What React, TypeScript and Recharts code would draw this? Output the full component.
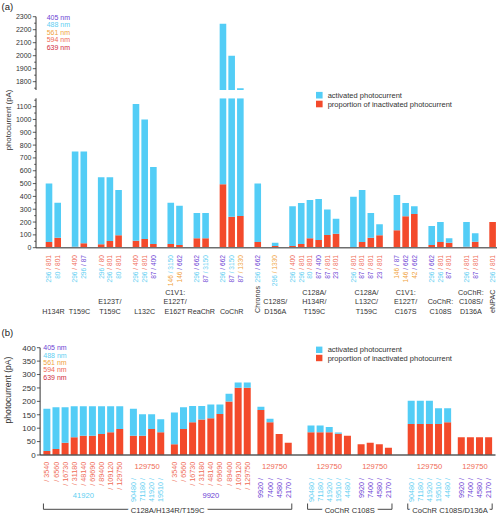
import React from 'react';
import { BarChart, Bar, XAxis, YAxis } from 'recharts';

const NM_COLOR: Record<number, string> = { 405: '#6c3fd4', 488: '#5fcff2', 561: '#f0a33c', 594: '#ef6a55', 639: '#d02c3d' };
const WAVELENGTHS = [405, 488, 561, 594, 639];
const BLUE = '#53cdf6';
const RED = '#f34a2b';
const INK = '#333';
const FONT = '"Liberation Sans", Arial, Helvetica, sans-serif';

// ---------------- panel (a) data ----------------
const A_GROUPS = ['H134R', 'T159C', 'E123T/\nT159C', 'L132C', 'C1V1:\nE122T/\nE162T', 'ReaChR', 'CoChR', 'Chronos', 'C128S/\nD156A', 'C128A/\nH134R/\nT159C', 'C128A/\nL132C/\nT159C', 'C1V1:\nE122T/\nC167S', 'CoChR:\nC108S', 'CoChR:\nC108S/\nD136A', 'eNPAC'];
const A_VERTICAL_GROUPS = ['Chronos', 'eNPAC'];
const A_GROUP_SIZES = [2, 2, 3, 3, 2, 2, 3, 1, 1, 6, 4, 3, 3, 2, 1];
const A_ACTIVATED = [500, 350, 750, 750, 550, 550, 450, 1120, 1000, 630, 350, 328, 270, 270, 2245, 2000, 1750, 500, 39, 323, 349, 372, 380, 297, 226, 398, 450, 271, 182, 411, 349, 323, 169, 200, 73, 200, 112, 200];
const A_INACTIVATED = [45, 78, 8, 34, 26, 52, 97, 55, 68, 29, 29, 21, 73, 73, 495, 242, 247, 44, 13, 13, 29, 73, 60, 99, 109, 5, 44, 78, 97, 136, 245, 263, 21, 44, 39, 8, 47, 200];
const A_DOSE_ON = ['296', '80', '296', '296', '296', '296', '80', '296', '296', '87', '146', '146', '296', '87', '296', '87', '87', '296', '296', '296', '296', '80', '87', '87', '23', '296', '87', '87', '23', '146', '146', '42', '296', '296', '87', '296', '87', '296'];
const A_DOSE_ON_NM = [488, 488, 488, 488, 488, 488, 488, 488, 488, 405, 561, 561, 488, 405, 488, 405, 405, 488, 488, 488, 488, 488, 405, 405, 405, 488, 405, 405, 405, 561, 561, 561, 488, 488, 405, 488, 405, 488];
const A_DOSE_OFF = ['801', '801', '400', '87', '80', '801', '801', '400', '801', '400', '3150', '662', '662', '3150', '662', '3150', '1330', '662', '1330', '400', '801', '801', '400', '801', '801', '801', '801', '801', '801', '87', '662', '662', '662', '801', '801', '801', '801', '801'];
const A_DOSE_OFF_NM = [594, 594, 594, 405, 594, 594, 594, 594, 594, 405, 488, 405, 405, 488, 405, 488, 561, 405, 561, 594, 594, 594, 405, 594, 594, 594, 594, 594, 594, 405, 405, 405, 405, 594, 594, 594, 594, 594];
const A_LOWER_TICKS = [0, 50, 100, 150, 200, 250, 300, 350, 400, 450, 500, 550, 600, 650, 700, 750, 800, 850, 900, 950, 1000, 1050, 1100, 1150];
const A_UPPER_TICKS = [1750, 1800, 1850, 1900, 1950, 2000, 2050, 2100, 2150, 2200, 2250, 2300];

// ---------------- panel (b) data ----------------
const B_GROUP_SIZES = [9, 4, 9, 4, 5, 4, 5, 4];
const B_GROUP_GAPS = [1, 1, 1, 1, 3, 1, 3, 1];
const B_ACTIVATED = [
  172, 178, 178, 182, 182, 182, 182, 182, 182,
  172, 152, 152, 133,
  158, 178, 183, 183, 188, 188, 228, 270, 270,
  180, 135, 78, 46,
  110, 110, 104, 84, 72,
  40, 46, 40, 27,
  202, 202, 202, 174, 174,
  66, 66, 66, 66,
];
const B_INACTIVATED = [
  15, 22, 46, 66, 72, 72, 78, 85, 97,
  72, 72, 97, 85,
  40, 97, 122, 132, 137, 153, 199, 251, 251,
  168, 122, 78, 46,
  85, 85, 85, 79, 72,
  40, 46, 40, 27,
  116, 116, 116, 116, 122,
  66, 66, 66, 66,
];
const B_BAR_LABELS = [
  '/ 3540', '/ 6560', '/ 16730', '/ 31180', '/ 48140', '/ 69690', '/ 89400', '/ 109120', '/ 129750',
  '90480 /', '71180 /', '41920 /', '19510 /',
  '/ 3540', '/ 6560', '/ 16730', '/ 31180', '/ 48140', '/ 69690', '/ 89400', '/ 109120', '/ 129750',
  '9920 /', '7400 /', '4580 /', '2170 /',
  '90480 /', '71180 /', '41920 /', '19510 /', '4480 /',
  '9920 /', '7400 /', '4580 /', '2170 /',
  '90480 /', '71180 /', '41920 /', '19510 /', '4480 /',
  '9920 /', '7400 /', '4580 /', '2170 /',
];
const B_BAR_NM = [
  594, 594, 594, 594, 594, 594, 594, 594, 594,
  488, 488, 488, 488,
  594, 594, 594, 594, 594, 594, 594, 594, 594,
  405, 405, 405, 405,
  488, 488, 488, 488, 488,
  405, 405, 405, 405,
  488, 488, 488, 488, 488,
  405, 405, 405, 405,
];
const B_GROUP_LABELS = ['41920', '129750', '9920', '129750', '129750', '129750', '129750', '129750'];
const B_GROUP_LABEL_NM = [488, 594, 405, 594, 594, 594, 594, 594];
const B_GROUP_LABEL_BELOW = [true, false, true, false, false, false, false, false];
const B_FAMILIES = ['C128A/H134R/T159C', 'CoChR C108S', 'CoChR C108S/D136A'];
const B_FAMILY_FIRST_GROUP = [0, 4, 6];
const B_FAMILY_LAST_GROUP = [3, 5, 7];
const B_TICKS = [0, 50, 100, 150, 200, 250, 300, 350, 400];

// ---------------- layout helpers ----------------
function layoutSlots(sizes: number[], gaps: number[], step: number) {
  const pos: number[] = [];
  const groupOf: number[] = [];
  const first: number[] = [];
  const last: number[] = [];
  let u = 0;
  sizes.forEach((n, g) => {
    u += gaps[g];
    for (let i = 0; i < n; i++) {
      if (i === 0) first.push(u + 0.5);
      if (i === n - 1) last.push(u + 0.5);
      pos.push(u + 0.5);
      groupOf.push(g);
      u += step;
    }
  });
  const centers = first.map((f, g) => (f + last[g]) / 2);
  return { pos, groupOf, first, last, centers, total: u };
}
const near = (arr: number[], v: number) => arr.findIndex((a) => Math.abs(a - v) < 1e-6);

const aLayout = layoutSlots(A_GROUP_SIZES, A_GROUP_SIZES.map(() => 1), 1);
const aRows = aLayout.pos.map((pos, i) => ({ pos, inact: A_INACTIVATED[i], rest: A_ACTIVATED[i] - A_INACTIVATED[i] }));

const bLayout = layoutSlots(B_GROUP_SIZES, B_GROUP_GAPS, 2);
const bRows = bLayout.pos.map((pos, i) => ({ pos, inact: B_INACTIVATED[i], rest: B_ACTIVATED[i] - B_INACTIVATED[i] }));
const bFamilyCenters = B_FAMILIES.map((_, f) => (bLayout.first[B_FAMILY_FIRST_GROUP[f]] + bLayout.last[B_FAMILY_LAST_GROUP[f]]) / 2);

// geometry (chart-local pixel positions of the plot baselines)
const W = 500;
const A_LEFT = 36;
const A_RIGHT = 3;
const A_BASE = 247.7;
const B_LEFT = 40.1;
const B_RIGHT = 4.5;
const B_BASE = 135;
const B_UNIT_PX = (W - B_LEFT - B_RIGHT) / bLayout.total;

// ---------------- tick components ----------------
const makeYTick = (fontSize: number, majorStep: number) => (props: any) => {
  const { x, y, payload } = props;
  const v = payload.value;
  const major = v % majorStep === 0;
  return (
    <g>
      <line x1={x - (major ? 3.2 : 1.8)} x2={x} y1={y} y2={y} stroke={INK} strokeWidth={0.8} />
      {major && (
        <text x={x - 4.5} y={y} dy="0.35em" textAnchor="end" fontSize={fontSize} fill={INK} fontFamily={FONT}>
          {v}
        </text>
      )}
    </g>
  );
};
const YTickA = makeYTick(7, 100);
const YTickB = makeYTick(8, 50);

const ABarTick = (props: any) => {
  const { x, payload } = props;
  const i = near(aLayout.pos, payload.value);
  if (i < 0) return <g />;
  const ty = A_BASE + 7.3;
  return (
    <text x={x} y={ty} dy="0.35em" transform={`rotate(-90 ${x} ${ty})`} textAnchor="end" fontSize={6.6} fontFamily={FONT}>
      <tspan fill={NM_COLOR[A_DOSE_ON_NM[i]]}>{`${A_DOSE_ON[i]} `}</tspan>
      <tspan fill={NM_COLOR[A_DOSE_OFF_NM[i]]}>{`/ ${A_DOSE_OFF[i]}`}</tspan>
    </text>
  );
};

const AGroupTick = (props: any) => {
  const { x, payload } = props;
  const g = near(aLayout.centers, payload.value);
  if (g < 0) return <g />;
  const label = A_GROUPS[g];
  if (A_VERTICAL_GROUPS.includes(label)) {
    const ty = A_BASE + 65.3;
    return (
      <text x={x} y={ty} dy="0.35em" transform={`rotate(-90 ${x} ${ty})`} textAnchor="start" fontSize={7.2} fill={INK} fontFamily={FONT}>
        {label}
      </text>
    );
  }
  const lines = label.split('\n');
  return (
    <text textAnchor="middle" fontSize={7.2} fill={INK} fontFamily={FONT}>
      {lines.map((l, k) => (
        <tspan key={k} x={x} y={A_BASE + 65.8 - (lines.length - 1 - k) * 9.3}>
          {l}
        </tspan>
      ))}
    </text>
  );
};

const BBarTick = (props: any) => {
  const { x, payload } = props;
  const i = near(bLayout.pos, payload.value);
  if (i < 0) return <g />;
  const below = B_GROUP_LABEL_BELOW[bLayout.groupOf[i]];
  const ty = B_BASE + (below ? 6.8 : 23);
  return (
    <text x={x} y={ty} dy="0.35em" transform={`rotate(-90 ${x} ${ty})`} textAnchor="end" fontSize={7.2} fill={NM_COLOR[B_BAR_NM[i]]} fontFamily={FONT}>
      {B_BAR_LABELS[i]}
    </text>
  );
};

const BGroupTick = (props: any) => {
  const { x, payload } = props;
  const g = near(bLayout.centers, payload.value);
  if (g < 0) return <g />;
  const below = B_GROUP_LABEL_BELOW[g];
  return (
    <text x={x} y={B_BASE + (below ? 40 : 11)} dy="0.35em" textAnchor="middle" fontSize={7.6} fill={NM_COLOR[B_GROUP_LABEL_NM[g]]} fontFamily={FONT}>
      {B_GROUP_LABELS[g]}
    </text>
  );
};

const BFamilyTick = (props: any) => {
  const { x, payload } = props;
  const f = near(bFamilyCenters, payload.value);
  if (f < 0) return <g />;
  const span = bLayout.last[B_FAMILY_LAST_GROUP[f]] - bLayout.first[B_FAMILY_FIRST_GROUP[f]];
  const half = (span / 2) * B_UNIT_PX + 3.5;
  const ly = B_BASE + 54.3;
  return (
    <g>
      <path d={`M${x - half},${ly - 5.8}V${ly}H${x + half}V${ly - 5.8}`} fill="none" stroke={INK} strokeWidth={0.9} />
      <text x={x} y={ly + 0.7} dy="0.35em" textAnchor="middle" fontSize={7.6} fill={INK} stroke="#fff" strokeWidth={6} paintOrder="stroke" fontFamily={FONT}>
        {B_FAMILIES[f]}
      </text>
    </g>
  );
};

// ---------------- overlay annotations ----------------
const WaveLegend = ({ x, y0, step, size }: { x: number; y0: number; step: number; size: number }) => (
  <g>
    {WAVELENGTHS.map((nm, k) => (
      <text key={nm} x={x} y={y0 + k * step} dy="0.35em" fontSize={size} fill={NM_COLOR[nm]} fontFamily={FONT}>
        {`${nm} nm`}
      </text>
    ))}
  </g>
);
const SeriesLegend = ({ y1, y2, box }: { y1: number; y2: number; box: number }) => (
  <g>
    <rect x={316} y={y1 - box / 2} width={box} height={box} fill={BLUE} />
    <text x={327.7} y={y1} dy="0.35em" fontSize={7.5} fill={INK} fontFamily={FONT}>activated photocurrent</text>
    <rect x={316} y={y2 - box / 2} width={box} height={box} fill={RED} />
    <text x={327.7} y={y2} dy="0.35em" fontSize={7.5} fill={INK} fontFamily={FONT}>proportion of inactivated photocurrent</text>
  </g>
);

const hideAxisStroke = { stroke: 'none' };

export default function App() {
  return (
    <div style={{ position: 'absolute', left: 0, top: 0, width: W, height: 515, background: '#fff', fontFamily: FONT }}>
      {/* panel (a) lower segment */}
      <div style={{ position: 'absolute', left: 0, top: 0 }}>
        <BarChart width={W} height={330} data={aRows} margin={{ top: 98.3, right: A_RIGHT, bottom: 80.3, left: 0 }} barSize={6.6}>
          <XAxis xAxisId="bars" type="number" dataKey="pos" domain={[0, aLayout.total]} allowDataOverflow ticks={aLayout.pos} interval={0} tick={ABarTick} tickLine={false} tickSize={0} tickMargin={0} height={1} axisLine={{ stroke: '#6e6e6e', strokeWidth: 1.6 }} />
          <XAxis xAxisId="grp" type="number" dataKey="pos" domain={[0, aLayout.total]} allowDataOverflow ticks={aLayout.centers} interval={0} tick={AGroupTick} tickLine={false} tickSize={0} tickMargin={0} height={1} axisLine={hideAxisStroke} />
          <YAxis type="number" domain={[0, 1165]} allowDataOverflow ticks={A_LOWER_TICKS} interval={0} width={A_LEFT} tick={YTickA} tickLine={false} tickSize={0} tickMargin={0} axisLine={{ stroke: INK, strokeWidth: 1 }} />
          <Bar xAxisId="bars" dataKey="inact" stackId="s" fill={RED} isAnimationActive={false} />
          <Bar xAxisId="bars" dataKey="rest" stackId="s" fill={BLUE} isAnimationActive={false} />
        </BarChart>
      </div>
      {/* panel (a) upper segment */}
      <div style={{ position: 'absolute', left: 0, top: 0 }}>
        <BarChart width={W} height={100} data={aRows} margin={{ top: 16.7, right: A_RIGHT, bottom: 10, left: 0 }} barSize={6.6}>
          <XAxis xAxisId="bars" hide type="number" dataKey="pos" domain={[0, aLayout.total]} allowDataOverflow height={0} />
          <YAxis type="number" domain={[1736, 2300]} allowDataOverflow ticks={A_UPPER_TICKS} interval={0} width={A_LEFT} tick={YTickA} tickLine={false} tickSize={0} tickMargin={0} axisLine={{ stroke: INK, strokeWidth: 1 }} />
          <Bar xAxisId="bars" dataKey="inact" stackId="s" fill={RED} isAnimationActive={false} />
          <Bar xAxisId="bars" dataKey="rest" stackId="s" fill={BLUE} isAnimationActive={false} />
        </BarChart>
      </div>
      {/* panel (b) */}
      <div style={{ position: 'absolute', left: 0, top: 320 }}>
        <BarChart width={W} height={195} data={bRows} margin={{ top: 27.7, right: B_RIGHT, bottom: 57, left: 0 }} barSize={7}>
          <XAxis xAxisId="bars" type="number" dataKey="pos" domain={[0, bLayout.total]} allowDataOverflow ticks={bLayout.pos} interval={0} tick={BBarTick} tickLine={false} tickSize={0} tickMargin={0} height={1} axisLine={{ stroke: '#5a5a5a', strokeWidth: 1.5 }} />
          <XAxis xAxisId="grp" type="number" dataKey="pos" domain={[0, bLayout.total]} allowDataOverflow ticks={bLayout.centers} interval={0} tick={BGroupTick} tickLine={false} tickSize={0} tickMargin={0} height={1} axisLine={hideAxisStroke} />
          <XAxis xAxisId="fam" type="number" dataKey="pos" domain={[0, bLayout.total]} allowDataOverflow ticks={bFamilyCenters} interval={0} tick={BFamilyTick} tickLine={false} tickSize={0} tickMargin={0} height={1} axisLine={hideAxisStroke} />
          <YAxis type="number" domain={[0, 400]} allowDataOverflow ticks={B_TICKS} interval={0} width={B_LEFT} tick={YTickB} tickLine={false} tickSize={0} tickMargin={0} axisLine={{ stroke: INK, strokeWidth: 1 }} />
          <Bar xAxisId="bars" dataKey="inact" stackId="s" fill={RED} isAnimationActive={false} />
          <Bar xAxisId="bars" dataKey="rest" stackId="s" fill={BLUE} isAnimationActive={false} />
        </BarChart>
      </div>
      {/* annotations */}
      <svg width={W} height={515} style={{ position: 'absolute', left: 0, top: 0, pointerEvents: 'none' }}>
        <text x={1.5} y={6.8} dy="0.35em" fontSize={9.5} fill="#222" fontFamily={FONT}>(a)</text>
        <text x={1.5} y={333} dy="0.35em" fontSize={9.5} fill="#222" fontFamily={FONT}>(b)</text>
        <WaveLegend x={46.7} y0={17.3} step={7.5} size={7} />
        <WaveLegend x={43.3} y0={347.7} step={7.4} size={7} />
        <SeriesLegend y1={95.2} y2={104} box={6.6} />
        <SeriesLegend y1={349.8} y2={358} box={6.4} />
        <text x={8.5} y={120} dy="0.35em" transform="rotate(-90 8.5 120)" textAnchor="middle" fontSize={7.8} fill={INK} fontFamily={FONT}>photocurrent (pA)</text>
        <text x={7.5} y={390} dy="0.35em" transform="rotate(-90 7.5 390)" textAnchor="middle" fontSize={8.6} fill={INK} fontFamily={FONT}>photocurrent (pA)</text>
      </svg>
    </div>
  );
}
